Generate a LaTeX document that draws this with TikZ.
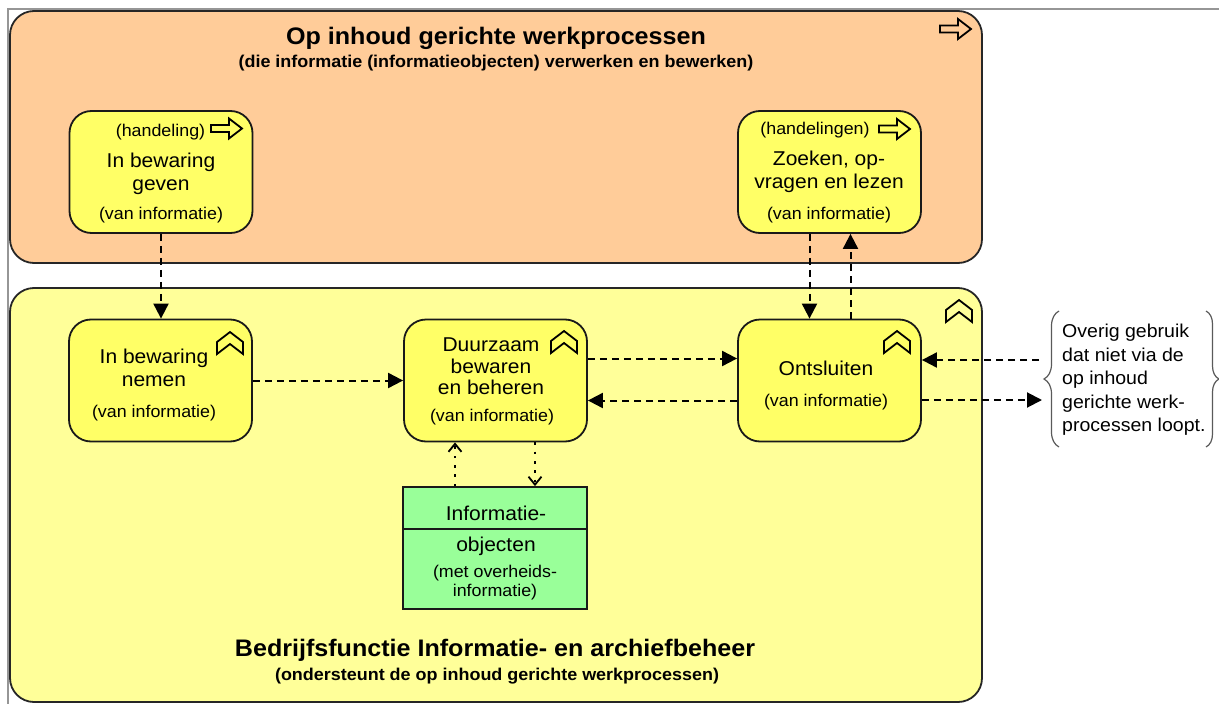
\documentclass[tikz,border=0pt]{standalone}
\usepackage{fontspec}
\setmainfont{Liberation Sans}[FakeStretch=1.05]
\usetikzlibrary{arrows.meta,decorations.pathreplacing}

\definecolor{procorange}{RGB}{255,204,153}
\definecolor{funcyellow}{RGB}{255,255,153}
\definecolor{boxyellow}{RGB}{255,255,102}
\definecolor{objgreen}{RGB}{153,255,153}
\definecolor{framegray}{RGB}{150,150,150}
\definecolor{bracegray}{RGB}{90,90,90}

\tikzset{
  groupbox/.style={draw=black!85, line width=1.8pt, rounded corners=24pt, inner sep=0pt},
  actbox/.style={draw=black!90, fill=boxyellow, line width=1.8pt, rounded corners=22pt,
    minimum width=183pt, minimum height=122pt, inner sep=0pt},
  objbox/.style={draw=black!90, fill=objgreen, line width=1.8pt,
    minimum width=184pt, minimum height=122pt, inner sep=0pt},
  maintxt/.style={font=\fontsize{20}{23}\selectfont, align=center, inner sep=0pt},
  smalltxt/.style={font=\fontsize{17}{19.5}\selectfont, align=center, inner sep=0pt},
  titletxt/.style={font=\fontsize{23.9}{26}\selectfont\bfseries, inner sep=0pt},
  subtxt/.style={font=\fontsize{17.1}{19}\selectfont\bfseries, inner sep=0pt},
  flow/.style={line width=2pt, dash pattern=on 7pt off 5pt,
    -{Triangle[length=15pt,width=15pt]}},
  access/.style={line width=2.6pt, dash pattern=on 2.6pt off 6.7pt,
    -{Straight Barb[length=8pt,width=13pt,line width=1.8pt]}},
  iconline/.style={draw=black, line width=1.8pt, line join=miter},
  fnicon/.pic={\draw[iconline] (-13,-12) -- (0,-22) -- (13,-12) -- (13,0) -- (0,-10) -- (-13,0) -- cycle;},
  acticon/.pic={\draw[iconline] (0,-3.5) -- (18,-3.5) -- (18,-10) -- (31,0) -- (18,10) -- (18,3.5) -- (0,3.5) -- cycle;},
}

\begin{document}
\begin{tikzpicture}[x=1pt,y=-1pt]
\useasboundingbox (0,0) rectangle (1219,704);
\fill[white] (0,0) rectangle (1219,704);

% outer frame
\draw[framegray, line width=1.2pt] (8,704) -- (8,9) -- (1219,9);

% group containers
\node[groupbox, fill=procorange, minimum width=972pt, minimum height=252pt] (werk) at (496,137) {};
\node[groupbox, fill=funcyellow, minimum width=972pt, minimum height=414pt] (iab) at (496,495) {};
\pic at (940,29) {acticon};
\pic at (959,322) {fnicon};

\node[titletxt] (werktitle) at (496,38) {Op inhoud gerichte werkprocessen};
\node[subtxt] (werksub) at (496,63) {(die informatie (informatieobjecten) verwerken en bewerken)};
\node[titletxt] (iabtitle) at (495,650) {Bedrijfsfunctie Informatie- en archiefbeheer};
\node[subtxt] (iabsub) at (497,676) {(ondersteunt de op inhoud gerichte werkprocessen)};

% processes in the work domain
\node[actbox] (geven) at (161,172) {};
\pic at (211,128.5) {acticon};
\node[smalltxt] (geventype) at (160.5,132) {(handeling)};
\node[maintxt] (geventxt) at (161,173.5) {In bewaring\\geven};
\node[smalltxt] (gevenobj) at (161,215) {(van informatie)};

\node[actbox] (zoeken) at (829.5,172) {};
\pic at (879,129) {acticon};
\node[smalltxt] (zoekentype) at (815,130) {(handelingen)};
\node[maintxt] (zoekentxt) at (829,171.5) {Zoeken, op-\\vragen en lezen};
\node[smalltxt] (zoekenobj) at (829,215) {(van informatie)};

% functions of information and archive management
\node[actbox] (nemen) at (160.5,380.5) {};
\pic at (230,354) {fnicon};
\node[maintxt] (nementxt) at (154,368) {In bewaring\\nemen};
\node[smalltxt] (nemenobj) at (154,413) {(van informatie)};

\node[actbox] (duurzaam) at (495.5,380.5) {};
\pic at (564,353) {fnicon};
\node[maintxt, font=\fontsize{20}{21.5}\selectfont] (duurzaamtxt) at (491,366.5) {Duurzaam\\bewaren\\en beheren};
\node[smalltxt] (duurzaamobj) at (492,417) {(van informatie)};

\node[actbox] (ontsluiten) at (829.5,380.5) {};
\pic at (897,353) {fnicon};
\node[maintxt] (ontsluitentxt) at (826,368) {Ontsluiten};
\node[smalltxt] (ontsluitenobj) at (826,402) {(van informatie)};

% information objects
\node[objbox] (info) at (495,548) {};
\draw[black!90, line width=1.8pt] ([yshift=19pt]info.west) -- ([yshift=19pt]info.east);
\node[maintxt] (infohead) at (496,513) {Informatie-};
\node[maintxt] (infotxt) at (496,546) {objecten};
\node[smalltxt] (infosub) at (495,582.5) {(met overheids-\\informatie)};

% other use
\node[font=\fontsize{18.6}{23.5}\selectfont, align=left, anchor=west, inner sep=0pt] (overig) at (1062,380)
  {Overig gebruik\\dat niet via de\\op inhoud\\gerichte werk-\\processen loopt.};
\draw[bracegray, line width=1.2pt, decorate, decoration={brace, amplitude=15pt}]
  (1059,447) -- (1059,311);
\draw[bracegray, line width=1.2pt, decorate, decoration={brace, amplitude=13pt}]
  (1206,311) -- (1206,447);
\coordinate (ovin) at (1039,360);
\coordinate (ovout) at (1042,400);

% flows
\draw[flow] (geven.south) -- (geven.south |- nemen.north);
\draw[flow] (nemen.east) -- (duurzaam.west);
\draw[flow] ([yshift=22pt]duurzaam.east) -- ([yshift=22pt]ontsluiten.west);
\draw[flow] ([yshift=-20pt]ontsluiten.west) -- ([yshift=-20pt]duurzaam.east);
\draw[flow] ([xshift=-20pt]zoeken.south) -- ([xshift=-20pt]ontsluiten.north);
\draw[flow] ([xshift=21pt]ontsluiten.north) -- ([xshift=21pt]zoeken.south);
\draw[flow] (ovin) -- (ontsluiten.east |- ovin);
\draw[flow] (ontsluiten.east |- ovout) -- (ovout);

% access relations
\draw[access] (info.north -| 455,0) -- (duurzaam.south -| 455,0);
\draw[access] (duurzaam.south -| 535,0) -- (info.north -| 535,0);
\end{tikzpicture}
\end{document}
